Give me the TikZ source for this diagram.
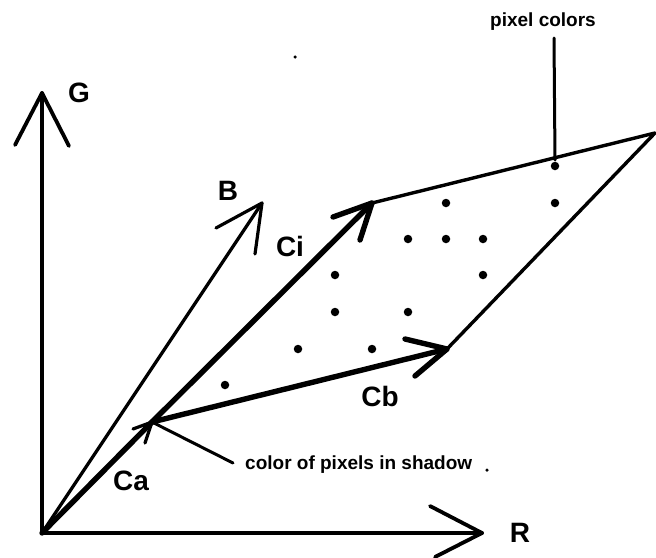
\documentclass[tikz,border=0pt]{standalone}
\usepackage{fontspec}
\setmainfont{Liberation Sans}
\begin{document}
\begin{tikzpicture}[x=1pt,y=-1pt,line cap=round,line join=round,
  axis/.style={line width=3.8pt},
  thinvec/.style={line width=3.2pt},
  thickvec/.style={line width=5.4pt},
  edge/.style={line width=3.4pt},
  ptr/.style={line width=3pt},
  lbl/.style={font=\bfseries\fontsize{28}{28}\selectfont,inner sep=0pt},
  note/.style={font=\bfseries\fontsize{19}{19}\selectfont,inner sep=0pt},
  pix/.style={circle,fill=black,inner sep=0pt,minimum size=8.5pt},
  speck/.style={circle,fill=black,inner sep=0pt,minimum size=3.5pt}]
\useasboundingbox (0,0) rectangle (656,557);
% key points
\coordinate (O) at (42,533);
\coordinate (Gt) at (42,93);
\coordinate (Rt) at (482,533);
\coordinate (Bt) at (262,203);
\coordinate (A) at (152,422);
\coordinate (Ci) at (372,203);
\coordinate (Cb) at (447,349);
\coordinate (P) at (655,133);
% barb ends
\coordinate (g1) at (15,145); \coordinate (g2) at (69,146);
\coordinate (r1) at (430,506); \coordinate (r2) at (435,557);
\coordinate (b1) at (216,228); \coordinate (b2) at (255,254);
\coordinate (a1) at (133,429); \coordinate (a2) at (145,443);
\coordinate (i1) at (333,217); \coordinate (i2) at (360,240);
\coordinate (c1) at (405,339); \coordinate (c2) at (415,376);
% axes
\draw[axis] (O) -- (Gt);
\draw[axis] (g1) -- (Gt) -- (g2);
\draw[axis] (O) -- (Rt);
\draw[axis] (r1) -- (Rt) -- (r2);
\draw[thinvec] (O) -- (Bt);
\draw[thinvec] (b1) -- (Bt) -- (b2);
% vectors
\draw[thickvec] (O) -- (A);
\draw[thinvec] (a1) -- (A) -- (a2);
\draw[thickvec] (A) -- (Ci);
\draw[thickvec] (i1) -- (Ci) -- (i2);
\draw[thickvec] (A) -- (Cb);
\draw[thickvec] (c1) -- (Cb) -- (c2);
% parallelogram edges
\draw[edge] (Ci) -- (P) -- (Cb);
% labels
\node[lbl] (lG) at (79,93) {G};
\node[lbl] (lR) at (520,533) {R};
\node[lbl] (lB) at (228,191) {B};
\node[lbl] (lCi) at (290,246) {Ci};
\node[lbl] (lCa) at (131,481) {Ca};
\node[lbl] (lCb) at (380,396) {Cb};
% pixel dots
\node[pix] (p1) at (555,166) {};
\node[pix] (p2) at (446,203) {};
\node[pix] (p3) at (555,203) {};
\node[pix] (p4) at (408,239) {};
\node[pix] (p5) at (446,239) {};
\node[pix] (p6) at (483,239) {};
\node[pix] (p7) at (335,275) {};
\node[pix] (p8) at (483,275) {};
\node[pix] (p9) at (335,312) {};
\node[pix] (p10) at (408,312) {};
\node[pix] (p11) at (298,349) {};
\node[pix] (p12) at (372,349) {};
\node[pix] (p13) at (225,385) {};
% annotations
\node[note] (pc) at (543,22) {pixel colors};
\coordinate (pcs) at (554,38);
\coordinate (pce) at (555,160);
\draw[ptr] (pcs) -- (pce);
\node[note,anchor=west] (sh) at (245,465) {color of pixels in shadow};
\coordinate (shs) at (233,463);
\draw[ptr] (shs) -- (A);
\node[speck] (s1) at (487,470) {};
\node[speck] (s2) at (295,57) {};
\end{tikzpicture}
\end{document}
